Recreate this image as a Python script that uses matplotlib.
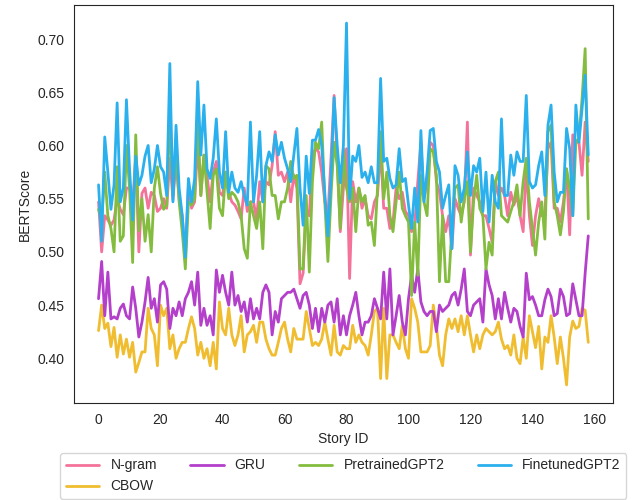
import numpy as np
import matplotlib
matplotlib.use("Agg")
import matplotlib.pyplot as plt
import seaborn as sns

# BERTScore per story
ngram = [
    0.547, 0.500, 0.534, 0.530, 0.525, 0.530, 0.550, 0.540, 0.535, 0.560, 0.560, 0.545, 0.590, 0.500, 0.555, 0.560, 0.541, 0.556, 0.553, 0.538, 0.541, 0.550,
    0.541, 0.588, 0.549, 0.585, 0.550, 0.534, 0.494, 0.563, 0.541, 0.547, 0.603, 0.553, 0.591, 0.572, 0.547, 0.575, 0.585, 0.556, 0.553, 0.575, 0.556, 0.547, 0.544,
    0.538, 0.531, 0.560, 0.538, 0.547, 0.547, 0.531, 0.566, 0.547, 0.566, 0.563, 0.581, 0.613, 0.572, 0.575, 0.566, 0.575, 0.547, 0.572, 0.560, 0.470, 0.480,
    0.541, 0.534, 0.591, 0.597, 0.594, 0.575, 0.547, 0.534, 0.588, 0.647, 0.588, 0.519, 0.560, 0.597, 0.475, 0.566, 0.547, 0.560, 0.541, 0.550, 0.534, 0.531, 0.547, 0.553,
    0.597, 0.541, 0.541, 0.522, 0.528, 0.560, 0.550, 0.556, 0.538, 0.534, 0.519, 0.525, 0.566, 0.603, 0.550, 0.566, 0.603, 0.600, 0.566, 0.556, 0.534, 0.519,
    0.534, 0.503, 0.550, 0.541, 0.534, 0.547, 0.622, 0.497, 0.560, 0.553, 0.547, 0.534, 0.534, 0.522, 0.509, 0.566, 0.553, 0.560, 0.553, 0.534, 0.556, 0.544, 0.553,
    0.534, 0.519, 0.581, 0.534, 0.506, 0.534, 0.550, 0.534, 0.534, 0.597, 0.603, 0.541, 0.541, 0.528, 0.547, 0.578, 0.516, 0.610, 0.603, 0.603, 0.572, 0.622, 0.585,
]
gru = [
    0.456, 0.491, 0.440, 0.481, 0.437, 0.439, 0.437, 0.447, 0.451, 0.440, 0.437, 0.467, 0.447, 0.420, 0.434, 0.453, 0.476, 0.447, 0.456, 0.434, 0.469, 0.472,
    0.465, 0.428, 0.447, 0.440, 0.453, 0.440, 0.456, 0.462, 0.472, 0.450, 0.481, 0.431, 0.447, 0.431, 0.440, 0.422, 0.483, 0.462, 0.478, 0.462, 0.450, 0.481, 0.450,
    0.459, 0.444, 0.453, 0.434, 0.456, 0.437, 0.447, 0.437, 0.462, 0.469, 0.462, 0.422, 0.444, 0.434, 0.456, 0.459, 0.462, 0.462, 0.465, 0.456, 0.447, 0.459,
    0.462, 0.450, 0.428, 0.447, 0.425, 0.447, 0.434, 0.450, 0.453, 0.434, 0.456, 0.422, 0.440, 0.422, 0.440, 0.450, 0.462, 0.440, 0.422, 0.434, 0.434, 0.440, 0.456, 0.447,
    0.437, 0.481, 0.437, 0.484, 0.422, 0.440, 0.459, 0.434, 0.422, 0.456, 0.478, 0.462, 0.484, 0.453, 0.444, 0.440, 0.444, 0.444, 0.425, 0.450, 0.444, 0.447,
    0.450, 0.459, 0.462, 0.450, 0.465, 0.484, 0.444, 0.440, 0.450, 0.453, 0.456, 0.434, 0.484, 0.469, 0.459, 0.437, 0.456, 0.437, 0.462, 0.447, 0.434, 0.447, 0.444,
    0.430, 0.420, 0.480, 0.455, 0.458, 0.450, 0.440, 0.440, 0.455, 0.465, 0.458, 0.440, 0.442, 0.465, 0.458, 0.440, 0.442, 0.470, 0.455, 0.440, 0.440, 0.480, 0.515,
]
pretrained = [
    0.540, 0.530, 0.575, 0.534, 0.522, 0.500, 0.580, 0.510, 0.515, 0.600, 0.560, 0.490, 0.610, 0.520, 0.550, 0.510, 0.535, 0.500, 0.560, 0.580, 0.555, 0.540,
    0.544, 0.629, 0.553, 0.597, 0.547, 0.519, 0.484, 0.547, 0.544, 0.550, 0.629, 0.553, 0.591, 0.556, 0.522, 0.572, 0.578, 0.541, 0.534, 0.575, 0.550, 0.556, 0.553,
    0.547, 0.534, 0.503, 0.494, 0.547, 0.534, 0.522, 0.547, 0.503, 0.581, 0.578, 0.553, 0.553, 0.531, 0.547, 0.547, 0.560, 0.585, 0.569, 0.572, 0.484, 0.484,
    0.553, 0.481, 0.566, 0.603, 0.597, 0.622, 0.547, 0.491, 0.553, 0.603, 0.581, 0.522, 0.597, 0.560, 0.547, 0.560, 0.519, 0.560, 0.547, 0.553, 0.525, 0.528, 0.506, 0.560,
    0.613, 0.550, 0.575, 0.534, 0.519, 0.547, 0.575, 0.541, 0.534, 0.528, 0.459, 0.528, 0.478, 0.572, 0.547, 0.534, 0.597, 0.594, 0.572, 0.472, 0.534, 0.472,
    0.472, 0.522, 0.560, 0.563, 0.528, 0.550, 0.566, 0.500, 0.547, 0.572, 0.541, 0.534, 0.484, 0.509, 0.497, 0.566, 0.575, 0.534, 0.531, 0.528, 0.538, 0.547, 0.563,
    0.534, 0.566, 0.588, 0.547, 0.522, 0.497, 0.528, 0.547, 0.512, 0.613, 0.619, 0.547, 0.534, 0.516, 0.538, 0.578, 0.560, 0.534, 0.603, 0.607, 0.644, 0.691, 0.531,
]
finetuned = [
    0.563, 0.510, 0.608, 0.575, 0.540, 0.563, 0.640, 0.547, 0.560, 0.643, 0.578, 0.530, 0.590, 0.563, 0.572, 0.590, 0.600, 0.565, 0.578, 0.600, 0.580, 0.575,
    0.553, 0.677, 0.547, 0.619, 0.560, 0.534, 0.495, 0.569, 0.547, 0.569, 0.660, 0.591, 0.638, 0.578, 0.569, 0.588, 0.625, 0.575, 0.560, 0.613, 0.556, 0.575, 0.560,
    0.556, 0.566, 0.553, 0.544, 0.622, 0.547, 0.572, 0.613, 0.547, 0.581, 0.594, 0.585, 0.610, 0.591, 0.603, 0.588, 0.578, 0.566, 0.591, 0.616, 0.560, 0.525,
    0.590, 0.555, 0.605, 0.605, 0.615, 0.600, 0.555, 0.515, 0.570, 0.645, 0.600, 0.565, 0.600, 0.715, 0.550, 0.590, 0.585, 0.600, 0.570, 0.575, 0.565, 0.580, 0.565, 0.565,
    0.663, 0.585, 0.588, 0.569, 0.560, 0.563, 0.597, 0.566, 0.569, 0.544, 0.522, 0.560, 0.528, 0.614, 0.547, 0.575, 0.614, 0.616, 0.585, 0.575, 0.541, 0.553,
    0.563, 0.503, 0.581, 0.572, 0.547, 0.560, 0.594, 0.553, 0.581, 0.575, 0.588, 0.538, 0.575, 0.528, 0.572, 0.547, 0.541, 0.625, 0.553, 0.553, 0.591, 0.572, 0.594,
    0.585, 0.585, 0.647, 0.566, 0.560, 0.563, 0.581, 0.594, 0.553, 0.619, 0.638, 0.575, 0.547, 0.556, 0.556, 0.616, 0.597, 0.534, 0.638, 0.603, 0.635, 0.666, 0.591,
]
cbow = [
    0.426, 0.450, 0.428, 0.433, 0.411, 0.429, 0.401, 0.422, 0.404, 0.418, 0.401, 0.415, 0.387, 0.396, 0.406, 0.406, 0.447, 0.428, 0.422, 0.393, 0.450, 0.440,
    0.447, 0.409, 0.422, 0.400, 0.409, 0.415, 0.415, 0.428, 0.439, 0.428, 0.403, 0.415, 0.400, 0.409, 0.393, 0.415, 0.390, 0.453, 0.428, 0.422, 0.447, 0.422, 0.412,
    0.422, 0.440, 0.406, 0.422, 0.425, 0.431, 0.415, 0.434, 0.434, 0.418, 0.409, 0.403, 0.403, 0.415, 0.428, 0.434, 0.418, 0.406, 0.428, 0.418, 0.418, 0.418,
    0.444, 0.428, 0.412, 0.415, 0.412, 0.418, 0.434, 0.418, 0.403, 0.431, 0.406, 0.403, 0.412, 0.409, 0.409, 0.431, 0.415, 0.422, 0.415, 0.412, 0.403, 0.422, 0.444, 0.447,
    0.381, 0.447, 0.381, 0.422, 0.422, 0.415, 0.409, 0.431, 0.409, 0.400, 0.456, 0.447, 0.434, 0.406, 0.406, 0.406, 0.412, 0.450, 0.431, 0.403, 0.393, 0.422,
    0.437, 0.428, 0.437, 0.425, 0.440, 0.422, 0.440, 0.422, 0.406, 0.422, 0.409, 0.422, 0.428, 0.425, 0.422, 0.425, 0.434, 0.418, 0.409, 0.412, 0.403, 0.422, 0.400,
    0.395, 0.420, 0.400, 0.440, 0.425, 0.410, 0.430, 0.390, 0.420, 0.415, 0.440, 0.420, 0.395, 0.420, 0.400, 0.375, 0.420, 0.435, 0.428, 0.430, 0.447, 0.445, 0.415,
]

# plot order gives the legend layout (column-major, 4 columns)
labels = ["N-gram", "CBOW", "GRU", "PretrainedGPT2", "FinetunedGPT2"]
series = [ngram, cbow, gru, pretrained, finetuned]
colors = ["#F4739A", "#F0BD30", "#B33FCB", "#84BC3F", "#2BB0EE"]

sns.set_style("white")
plt.rcParams["font.family"] = ["Liberation Sans", "DejaVu Sans"]

fig = plt.figure(figsize=(6.33, 5.0), dpi=100)
ax = fig.add_axes([0.117, 0.194, 0.851, 0.796])

for vals, lab, col in zip(series, labels, colors):
    ax.plot(np.arange(len(vals)), vals, color=col, lw=2, label=lab)

ax.set_xticks(np.arange(0, 161, 20))
ax.set_xlabel("Story ID")
ax.set_ylabel("BERTScore")

ax.legend(loc="upper center", bbox_to_anchor=(0.5, -0.108), ncol=4,
          frameon=True, columnspacing=2.4, handlelength=2.4)

fig.savefig("out.png", dpi=100)
